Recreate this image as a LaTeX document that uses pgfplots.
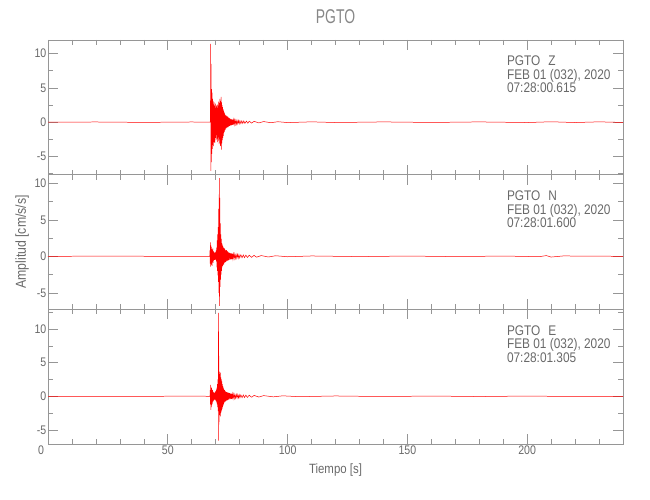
\documentclass[border=0pt]{standalone}
\usepackage{pgfplots}
\pgfplotsset{compat=1.18}
\usepackage{fontspec}
\setmainfont{Liberation Sans}[FakeStretch=0.85]
\newfontfamily\titlefont{Liberation Sans}[FakeStretch=0.7]
\definecolor{axgray}{RGB}{150,150,150}
\definecolor{txtgray}{RGB}{105,105,105}
\definecolor{titgray}{RGB}{135,135,135}
\pgfplotsset{
  panel/.style={
    scale only axis, width=575bp, height=134.7bp,
    anchor=south west,
    xmin=0, xmax=240,
    axis line style={axgray, line width=0.6pt},
    tick style={axgray, line width=0.6pt},
    tick align=inside,
    major tick length=10bp, minor tick length=5bp,
    xtick={0,50,...,200}, minor xtick={10,20,...,240},
    ytick={-5,0,5,10}, minor ytick={-7.5,-2.5,2.5,7.5,12.5},
    tick label style={font=\fontsize{12.5}{14}\selectfont, text=txtgray, inner sep=1.5bp},
    /pgf/number format/assume math mode=true,
    label style={font=\fontsize{13.5}{15}\selectfont, text=txtgray},
  },
}
\tikzset{
  trace/.style={red, line width=0.5pt},
  info/.style={anchor=north west, inner sep=0pt, align=left,
    font=\fontsize{14}{13.5}\selectfont, text=txtgray},
}
\begin{document}
\begin{tikzpicture}
\path[use as bounding box] (-48bp,-56bp) rectangle (602bp,444bp);
% ---------------- top: Z
\begin{axis}[panel, at={(0bp,269.4bp)}, ymin=-7.63, ymax=11.98,
  xticklabels={},
  title={PGTO},
  title style={at={(axis description cs:0.5,1)}, anchor=base, yshift=10bp,
    font=\titlefont\fontsize{20}{22}\selectfont, text=titgray}]
\addplot[trace] coordinates {
(0,0) (20,0.03) (40,-0.03) (60,0.03) (67.7,0)
(67.8,0.4) (67.9,11.4) (68.0,-7.1) (68.1,8.5) (68.2,-5.8) (68.3,4.8) (68.4,-4.6) (68.5,4.3) (68.6,-3.9) (68.7,3.4) (68.8,-3.3) (68.9,3.1) (69.0,-3.5) (69.1,2.6) (69.2,-2.9) (69.3,2.9) (69.4,-2.5) (69.5,2.2) (69.6,-3.0) (69.7,2.4) (69.8,-2.1) (69.9,2.7) (70.0,-2.3) (70.1,2.0) (70.2,-2.6) (70.3,2.3) (70.4,-1.9) (70.5,2.5) (70.6,-2.4) (70.7,2.1) (70.8,-2.9) (70.9,2.6) (71.0,-2.2) (71.1,3.0) (71.2,-2.7) (71.3,2.4) (71.4,-3.2) (71.5,2.8) (71.6,-2.5) (71.7,3.4) (71.8,-3.0) (71.9,2.6) (72.0,-3.5) (72.1,3.1) (72.2,-2.8) (72.3,3.7) (72.4,-4.0) (72.5,2.9) (72.6,-3.1) (72.7,2.5) (72.8,-2.6) (72.9,2.2) (73.0,-2.3) (73.1,1.9) (73.2,-2.0) (73.3,1.7) (73.4,-1.6) (73.5,1.5) (73.6,-1.4) (73.7,1.3) (73.8,-1.2) (73.9,1.1) (74.0,-1.1) (74.15,1.0) (74.3,-0.9) (74.45,0.95) (74.6,-0.8) (74.75,0.85) (74.9,-0.75) (75.05,0.8) (75.2,-0.7) (75.35,0.65) (75.5,-0.6) (75.65,0.62) (75.8,-0.55) (75.95,0.5) (76.1,-0.5) (76.3,0.48) (76.5,-0.45) (76.7,0.42) (76.9,-0.4) (77.1,0.38) (77.3,-0.36) (77.5,0.34) (77.7,-0.33) (77.9,0.32) (78.15,-0.3) (78.4,0.29) (78.65,-0.28) (78.9,0.27) (79.2,-0.26) (79.5,0.25) (79.8,-0.24) (80.1,0.22) (80.5,-0.21) (80.9,0.2) (81.3,-0.19) (81.7,0.18) (82.2,-0.17) (82.8,0.16) (83.4,-0.15) (84,0.14) (85,-0.13) (86,0.12) (88,-0.1) (90,0.09) (93,-0.08) (96,0.07) (100,-0.06) (110,0.05) (120,-0.05) (140,0.04) (160,-0.04) (180,0.04) (200,-0.05) (210,0.06) (220,-0.05) (230,0.05) (240,-0.04)
};
\node[info] at (rel axis cs:0.798,0.881) {PGTO\hspace{8bp}Z\\FEB 01 (032), 2020\\07:28:00.615};
\end{axis}
% ---------------- middle: N
\begin{axis}[panel, at={(0bp,134.7bp)}, ymin=-7.26, ymax=11.2,
  xticklabels={},
  ylabel={Amplitud [cm/s/s]},
  ylabel style={at={(axis description cs:-0.045,0.5)}, anchor=center, font=\fontsize{14.5}{16}\selectfont}]
\addplot[trace] coordinates {
(0,0) (30,0.03) (60,-0.03) (67.5,0)
(67.6,0.8) (67.7,-1.0) (67.8,1.9) (67.9,-1.4) (68.0,1.5) (68.1,-1.2) (68.2,1.3) (68.3,-1.1) (68.4,1.0) (68.5,-1.3) (68.6,0.9) (68.7,-0.8) (68.8,1.1) (68.9,-0.9) (69.0,0.7) (69.1,-0.6) (69.2,0.6) (69.3,-0.5) (69.4,0.5) (69.5,-0.5) (69.6,0.4) (69.7,-0.45) (69.8,0.5) (69.9,-0.4) (70.0,0.6) (70.1,-0.5) (70.2,0.8) (70.3,-0.7) (70.4,1.2) (70.5,-1.5) (70.6,2.2) (70.7,-2.0) (70.8,3.0) (70.9,-2.6) (71.0,4.0) (71.1,-3.5) (71.2,6.5) (71.3,-5.0) (71.4,8.5) (71.5,-6.8) (71.55,10.7) (71.65,-5.5) (71.75,8.0) (71.85,-4.2) (71.95,4.5) (72.05,-3.2) (72.15,3.0) (72.25,-2.5) (72.35,2.4) (72.45,-2.0) (72.55,1.8) (72.65,-1.5) (72.75,1.6) (72.85,-1.3) (72.95,1.4) (73.05,-1.2) (73.15,1.1) (73.25,-1.0) (73.35,1.2) (73.45,-1.1) (73.55,1.0) (73.65,-0.9) (73.75,1.1) (73.85,-0.8) (73.95,0.9) (74.1,-0.8) (74.25,0.8) (74.4,-0.7) (74.55,0.85) (74.7,-0.6) (74.85,0.7) (75.0,-0.6) (75.15,0.6) (75.3,-0.55) (75.45,0.5) (75.6,-0.5) (75.8,0.48) (76.0,-0.45) (76.2,0.44) (76.4,-0.42) (76.6,0.4) (76.8,-0.38) (77.0,0.37) (77.2,-0.35) (77.45,0.34) (77.7,-0.32) (77.95,0.3) (78.2,-0.29) (78.5,0.28) (78.8,-0.27) (79.1,0.26) (79.4,-0.25) (79.7,0.24) (80,-0.23) (80.5,0.21) (81,-0.2) (81.5,0.19) (82,-0.18) (82.6,0.17) (83.2,-0.16) (84,0.15) (85,-0.14) (86,0.13) (87,-0.12) (89,0.1) (92,-0.09) (95,0.08) (100,-0.06) (110,0.05) (130,-0.04) (150,0.04) (170,-0.04) (190,0.04) (205,-0.05) (208,0.1) (210,-0.1) (215,0.05) (240,0)
};
\node[info] at (rel axis cs:0.798,0.881) {PGTO\hspace{8bp}N\\FEB 01 (032), 2020\\07:28:01.600};
\end{axis}
% ---------------- bottom: E
\begin{axis}[panel, at={(0bp,0bp)}, ymin=-7.09, ymax=12.93,
  xticklabels={\makebox[0pt][r]{0\hspace{4bp}},50,100,150,200},
  xlabel={Tiempo [s]},
  xlabel style={at={(axis description cs:0.5,-0.193)}, anchor=center}]
\addplot[trace] coordinates {
(0,0) (30,-0.03) (60,0.03) (67.6,0)
(67.7,0.9) (67.8,-1.2) (67.9,1.7) (68.0,-2.0) (68.1,1.4) (68.2,-1.6) (68.3,1.2) (68.4,-1.3) (68.5,1.0) (68.6,-1.1) (68.7,0.9) (68.8,-0.8) (68.9,0.7) (69.0,-0.7) (69.1,0.6) (69.2,-0.55) (69.3,0.5) (69.4,-0.5) (69.5,0.45) (69.6,-0.5) (69.7,0.6) (69.8,-0.5) (69.9,0.7) (70.0,-0.6) (70.1,0.8) (70.2,-0.7) (70.3,1.0) (70.4,-0.9) (70.5,1.3) (70.6,-1.2) (70.7,1.8) (70.8,-1.6) (70.9,2.5) (71.0,-2.2) (71.1,5.0) (71.15,12.4) (71.25,-6.6) (71.35,6.0) (71.45,-3.8) (71.55,3.6) (71.65,-2.8) (71.75,3.3) (71.85,-2.5) (71.95,3.5) (72.05,-3.0) (72.15,2.8) (72.25,-2.4) (72.35,2.5) (72.45,-2.1) (72.55,2.2) (72.65,-1.9) (72.75,1.8) (72.85,-1.6) (72.95,1.5) (73.05,-1.4) (73.15,1.3) (73.25,-1.2) (73.35,1.1) (73.45,-1.0) (73.55,1.0) (73.65,-0.9) (73.75,0.9) (73.85,-0.8) (73.95,0.8) (74.1,-0.75) (74.25,0.7) (74.4,-0.65) (74.55,0.62) (74.7,-0.6) (74.85,0.58) (75.0,-0.55) (75.15,0.53) (75.3,-0.5) (75.45,0.5) (75.6,-0.47) (75.8,0.45) (76.0,-0.43) (76.2,0.42) (76.4,-0.4) (76.6,0.39) (76.8,-0.37) (77.0,0.36) (77.25,-0.34) (77.5,0.33) (77.75,-0.31) (78,0.3) (78.3,-0.29) (78.6,0.28) (78.9,-0.27) (79.2,0.26) (79.5,-0.25) (79.8,0.24) (80.1,-0.22) (80.5,0.21) (81,-0.2) (81.5,0.19) (82,-0.18) (82.6,0.17) (83.2,-0.16) (84,0.15) (85,-0.14) (86,0.13) (88,-0.11) (90,0.1) (94,-0.08) (98,0.07) (105,-0.06) (120,0.05) (140,-0.04) (160,0.04) (180,-0.04) (200,0.04) (220,-0.04) (240,0)
};
\node[info] at (rel axis cs:0.798,0.881) {PGTO\hspace{8bp}E\\FEB 01 (032), 2020\\07:28:01.305};
\end{axis}
\end{tikzpicture}
\end{document}
